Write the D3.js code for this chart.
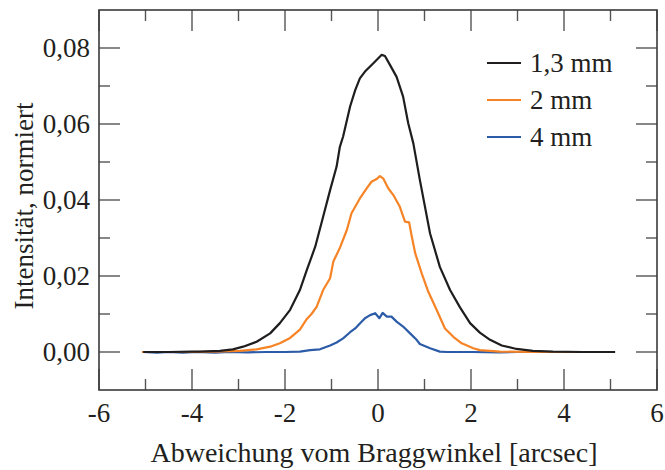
<!DOCTYPE html>
<html>
<head>
<meta charset="utf-8">
<script src="https://cdn.jsdelivr.net/npm/d3@7/dist/d3.min.js"></script>
<style>
  html, body { margin: 0; padding: 0; background: #fff; }
  svg { display: block; }
  text { font-family: "Liberation Serif", "Times New Roman", serif; fill: #231f20; }
</style>
</head>
<body>
<svg id="chart" width="665" height="470"></svg>
<script>
// Rocking curves: normalised intensity vs. deviation from the Bragg angle
const seriesNames = ["1,3 mm", "2 mm", "4 mm"];
const seriesColors = ["#1f1d1e", "#f68426", "#2c5ba8"];

const x13 = [-5.05, -4.5, -4.0, -3.83, -3.40, -3.12, -2.90, -2.61, -2.32, -2.11, -1.89, -1.68, -1.53, -1.35, -1.18, -1.03, -0.89, -0.82, -0.75, -0.60, -0.49, -0.39, -0.28, -0.10, 0.08, 0.15, 0.26, 0.40, 0.54, 0.65, 0.76, 0.90, 1.12, 1.33, 1.55, 1.76, 1.98, 2.19, 2.41, 2.66, 2.98, 3.33, 3.76, 4.4, 5.10];
const y13 = [0.0000, 0.0000, 0.0001, 0.0001, 0.0003, 0.0007, 0.0014, 0.0027, 0.0049, 0.0076, 0.0111, 0.0163, 0.0216, 0.0277, 0.0356, 0.0426, 0.0488, 0.0540, 0.0567, 0.0646, 0.0689, 0.0720, 0.0738, 0.0760, 0.0782, 0.0779, 0.0755, 0.0724, 0.0672, 0.0602, 0.0549, 0.0453, 0.0312, 0.0224, 0.0163, 0.0118, 0.0076, 0.0051, 0.0032, 0.0017, 0.0008, 0.0003, 0.0001, 0.0000, 0.0000];

const x2 = [-5.08, -4.5, -4.0, -3.5, -2.97, -2.61, -2.32, -2.11, -1.89, -1.68, -1.53, -1.43, -1.32, -1.18, -1.03, -0.96, -0.82, -0.67, -0.57, -0.39, -0.24, -0.14, -0.03, 0.04, 0.11, 0.22, 0.33, 0.47, 0.58, 0.67, 0.72, 0.80, 0.94, 1.08, 1.26, 1.44, 1.62, 1.80, 2.05, 2.19, 2.62, 3.3, 4.0, 4.73];
const y2 = [0.0000, 0.0000, 0.0000, 0.0001, 0.0003, 0.0007, 0.0014, 0.0023, 0.0037, 0.0059, 0.0087, 0.0100, 0.0119, 0.0163, 0.0194, 0.0238, 0.0274, 0.0321, 0.0365, 0.0404, 0.0431, 0.0448, 0.0455, 0.0463, 0.0457, 0.0431, 0.0413, 0.0382, 0.0343, 0.0341, 0.0308, 0.0260, 0.0207, 0.0159, 0.0111, 0.0062, 0.0040, 0.0023, 0.0010, 0.0005, 0.0001, 0.0000, 0.0000, 0.0000];

const x4 = [-5.05, -4.75, -4.5, -4.2, -3.9, -3.5, -3.2, -2.8, -2.4, -2.0, -1.68, -1.46, -1.25, -1.03, -0.89, -0.75, -0.60, -0.49, -0.39, -0.28, -0.17, -0.06, 0.03, 0.10, 0.19, 0.29, 0.40, 0.54, 0.69, 0.83, 0.90, 1.12, 1.33, 1.48, 2.0, 2.6, 3.0, 3.76];
const y4 = [0.0000, -0.0002, 0.0000, -0.0002, 0.0000, -0.0002, 0.0000, -0.0001, 0.0000, 0.0000, 0.0001, 0.0005, 0.0007, 0.0017, 0.0025, 0.0036, 0.0052, 0.0062, 0.0075, 0.0089, 0.0097, 0.0102, 0.0089, 0.0103, 0.0093, 0.0093, 0.0080, 0.0067, 0.0049, 0.0032, 0.0021, 0.0010, 0.0001, 0.0000, 0.0000, -0.0001, 0.0000, 0.0000];

const xTicks = [-6, -4, -2, 0, 2, 4, 6];
const xMinorTicks = [-5, -3, -1, 1, 3, 5];
const yTicks = [0, 0.02, 0.04, 0.06, 0.08];
const yMinorTicks = [0.01, 0.03, 0.05, 0.07];

const seriesX = [x13, x2, x4];
const seriesY = [y13, y2, y4];

const svg = d3.select("#chart");
const plotL = 99, plotR = 657, plotT = 10, plotB = 390;

const x = d3.scaleLinear().domain([-6, 6]).range([plotL, plotR]);
const y = d3.scaleLinear().domain([-0.01, 0.09]).range([plotB, plotT]);

const fmtY = v => d3.format(".2f")(v).replace(".", ",");
const fmtX = v => String(v);

// inward ticks on all four sides
const axes = svg.append("g").attr("stroke", "#555").attr("stroke-width", 1.4);
const major = 21, minor = 11;
function vTicks(vals, len) {
  vals.forEach(t => {
    axes.append("line").attr("x1", x(t)).attr("x2", x(t)).attr("y1", plotB).attr("y2", plotB - len);
    axes.append("line").attr("x1", x(t)).attr("x2", x(t)).attr("y1", plotT).attr("y2", plotT + len);
  });
}
function hTicks(vals, len) {
  vals.forEach(t => {
    axes.append("line").attr("x1", plotL).attr("x2", plotL + len).attr("y1", y(t)).attr("y2", y(t));
    axes.append("line").attr("x1", plotR).attr("x2", plotR - len).attr("y1", y(t)).attr("y2", y(t));
  });
}
vTicks(xTicks, major);
vTicks(xMinorTicks, minor);
hTicks(yTicks, major);
hTicks(yMinorTicks, minor);

// frame
svg.append("rect")
  .attr("x", plotL).attr("y", plotT)
  .attr("width", plotR - plotL).attr("height", plotB - plotT)
  .attr("fill", "none").attr("stroke", "#3a3a3a").attr("stroke-width", 1.6);

// tick labels
const fs = 27;
svg.append("g").selectAll("text").data(xTicks).join("text")
  .attr("x", d => x(d)).attr("y", 422)
  .attr("text-anchor", "middle").attr("font-size", fs)
  .text(fmtX);
svg.append("g").selectAll("text").data(yTicks).join("text")
  .attr("x", 90).attr("y", d => y(d)).attr("dy", "0.34em")
  .attr("text-anchor", "end").attr("font-size", fs)
  .text(fmtY);

// axis titles
svg.append("text")
  .attr("x", 374).attr("y", 462)
  .attr("text-anchor", "middle").attr("font-size", 28)
  .text("Abweichung vom Braggwinkel [arcsec]");
svg.append("text")
  .attr("transform", "translate(33,206) rotate(-90)")
  .attr("text-anchor", "middle").attr("font-size", 27)
  .text("Intensität, normiert");

// curves
const line = d3.line().x(d => x(d[0])).y(d => y(d[1]));
const plot = svg.append("g");
[2, 1, 0].forEach(i => {
  const pts = seriesX[i].map((v, k) => [v, seriesY[i][k]]);
  plot.append("path")
    .attr("d", line(pts))
    .attr("fill", "none")
    .attr("stroke", seriesColors[i])
    .attr("stroke-width", 2.2)
    .attr("stroke-linejoin", "round");
});

// legend
const legendY = [63, 100, 137];
const lg = svg.append("g");
seriesNames.forEach((name, i) => {
  lg.append("line")
    .attr("x1", 487).attr("x2", 521)
    .attr("y1", legendY[i]).attr("y2", legendY[i])
    .attr("stroke", seriesColors[i]).attr("stroke-width", 2);
  lg.append("text")
    .attr("x", 530).attr("y", legendY[i]).attr("dy", "0.34em")
    .attr("font-size", fs)
    .text(name);
});
</script>
</body>
</html>
